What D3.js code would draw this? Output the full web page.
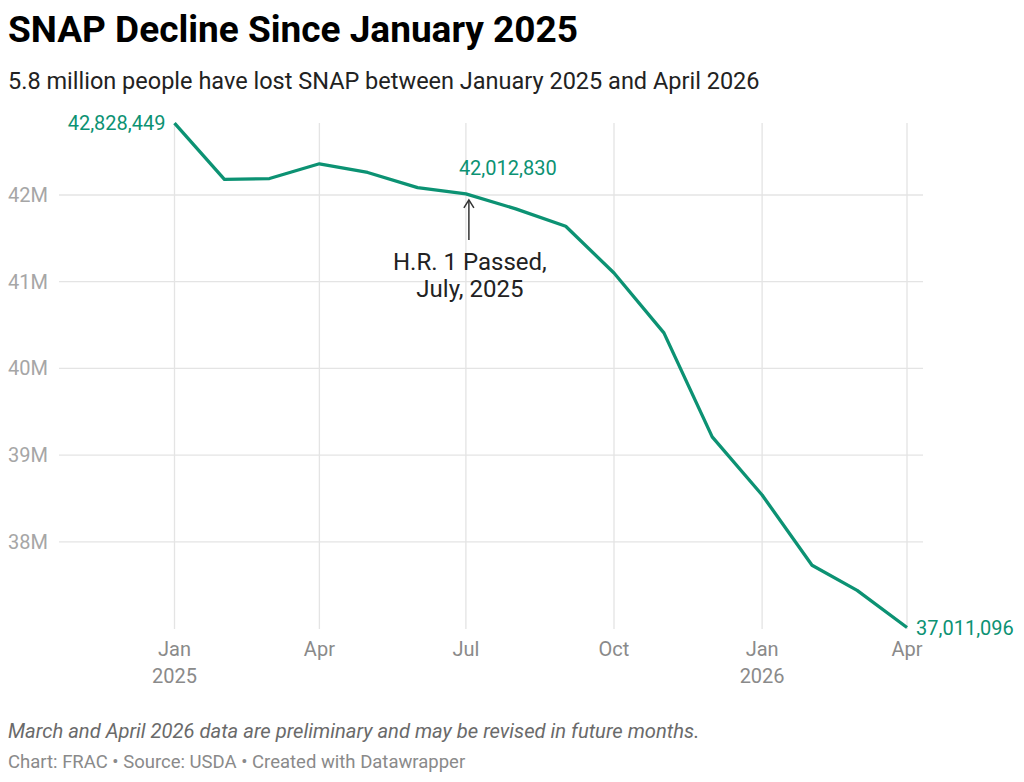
<!DOCTYPE html>
<html>
<head>
<meta charset="utf-8">
<script src="https://cdn.jsdelivr.net/npm/d3@7"></script>
<style>
  html, body { margin: 0; padding: 0; background: #fff; }
  svg { display: block; font-family: Roboto, "Noto Sans", sans-serif; }
</style>
</head>
<body>
<svg id="chart" width="1024" height="782"></svg>
<script>
// ---- data ----
const months = ["2025-01","2025-02","2025-03","2025-04","2025-05","2025-06","2025-07","2025-08",
                "2025-09","2025-10","2025-11","2025-12","2026-01","2026-02","2026-03","2026-04"];
const participants = [42828449, 42180000, 42190000, 42360000, 42260000, 42085000, 42012830, 41840000,
                      41640000, 41100000, 40410000, 39210000, 38540000, 37730000, 37440000, 37011096];
const yTicks = [38000000, 39000000, 40000000, 41000000, 42000000];
const xTicks = ["2025-01","2025-04","2025-07","2025-10","2026-01","2026-04"];
const xTickLabels = [["Jan","2025"],["Apr"],["Jul"],["Oct"],["Jan","2026"],["Apr"]];
const labelled = ["2025-01","2025-07","2026-04"];

const title = "SNAP Decline Since January 2025";
const subtitle = "5.8 million people have lost SNAP between January 2025 and April 2026";
const note = "March and April 2026 data are preliminary and may be revised in future months.";
const credit = "Chart: FRAC • Source: USDA • Created with Datawrapper";
const annotation = ["H.R. 1 Passed,", "July, 2025"];

const parse = d3.timeParse("%Y-%m");
const data = months.map((m, i) => ({ date: parse(m), value: participants[i], key: m }));

const svg = d3.select("#chart");
const green = "#0c9273";

const x = d3.scaleTime().domain([parse("2025-01"), parse("2026-04")]).range([174.5, 907]);
const y = d3.scaleLinear().domain([37000000, 42000000]).range([628.5, 195]);

// header
svg.append("text").attr("x", 8).attr("y", 42).attr("font-size", 37).attr("font-weight", 700)
  .attr("fill", "#000").text(title);
svg.append("text").attr("x", 8).attr("y", 89).attr("font-size", 23.5)
  .attr("fill", "#222").text(subtitle);

// horizontal grid + y labels
const yAxis = d3.axisLeft(y).tickValues(yTicks).tickSize(0).tickFormat(d => d3.format("d")(d / 1e6) + "M");
const gy = svg.append("g");
gy.selectAll("line").data(yTicks).join("line")
  .attr("x1", 59).attr("x2", 923).attr("y1", d => y(d)).attr("y2", d => y(d))
  .attr("stroke", "#e4e4e4").attr("stroke-width", 1.3);
gy.selectAll("text").data(yTicks).join("text")
  .attr("x", 8).attr("y", d => y(d) + 7).attr("font-size", 20).attr("fill", "#a6a6a6")
  .text(d => yAxis.tickFormat()(d));

// vertical grid
const gx = svg.append("g");
gx.selectAll("line").data(xTicks).join("line")
  .attr("x1", d => x(parse(d))).attr("x2", d => x(parse(d)))
  .attr("y1", 123).attr("y2", 629)
  .attr("stroke", "#e4e4e4").attr("stroke-width", 1.3);
const xl = gx.selectAll("g.xl").data(xTicks).join("g").attr("class", "xl")
  .attr("transform", d => `translate(${x(parse(d))},0)`);
xl.each(function(d, i) {
  const g = d3.select(this);
  xTickLabels[i].forEach((t, j) => {
    g.append("text").attr("x", 0).attr("y", 656 + j * 27).attr("text-anchor", "middle")
      .attr("font-size", 20).attr("fill", "#8a8a8a").text(t);
  });
});

// line
const line = d3.line().x(d => x(d.date)).y(d => y(d.value));
svg.append("path").datum(data).attr("d", line).attr("fill", "none")
  .attr("stroke", green).attr("stroke-width", 3.3).attr("stroke-linejoin", "round").attr("stroke-linecap", "butt");

// value labels
const fmt = d3.format(",");
const lab = data.filter(d => labelled.includes(d.key));
svg.selectAll("text.val").data(lab).join("text").attr("class", "val")
  .attr("font-size", 20).attr("fill", green)
  .attr("x", (d, i) => i === 0 ? x(d.date) - 9 : i === 1 ? x(d.date) - 7 : x(d.date) + 9)
  .attr("y", (d, i) => i === 0 ? y(d.value) + 7 : i === 1 ? y(d.value) - 19 : y(d.value) + 7)
  .attr("text-anchor", (d, i) => i === 0 ? "end" : "start")
  .text(d => fmt(d.value));

// annotation arrow
const jul = data[6];
const ax = x(jul.date) + 3;
const ay = y(jul.value);
svg.append("line").attr("x1", ax).attr("x2", ax).attr("y1", ay + 46).attr("y2", ay + 6)
  .attr("stroke", "#333").attr("stroke-width", 1.5);
svg.append("path").attr("d", `M${ax - 5},${ay + 14} L${ax},${ay + 6} L${ax + 5},${ay + 14}`)
  .attr("fill", "none").attr("stroke", "#333").attr("stroke-width", 1.5);
annotation.forEach((t, j) => {
  svg.append("text").attr("x", ax + 1).attr("y", ay + 76 + j * 27).attr("text-anchor", "middle")
    .attr("font-size", 24).attr("fill", "#222").text(t);
});

// footer
svg.append("text").attr("x", 8).attr("y", 738).attr("font-size", 20.2).attr("font-style", "italic")
  .attr("fill", "#6a6a6a").text(note);
svg.append("text").attr("x", 8).attr("y", 768).attr("font-size", 18.5)
  .attr("fill", "#8a8a8a").text(credit);
</script>
</body>
</html>
